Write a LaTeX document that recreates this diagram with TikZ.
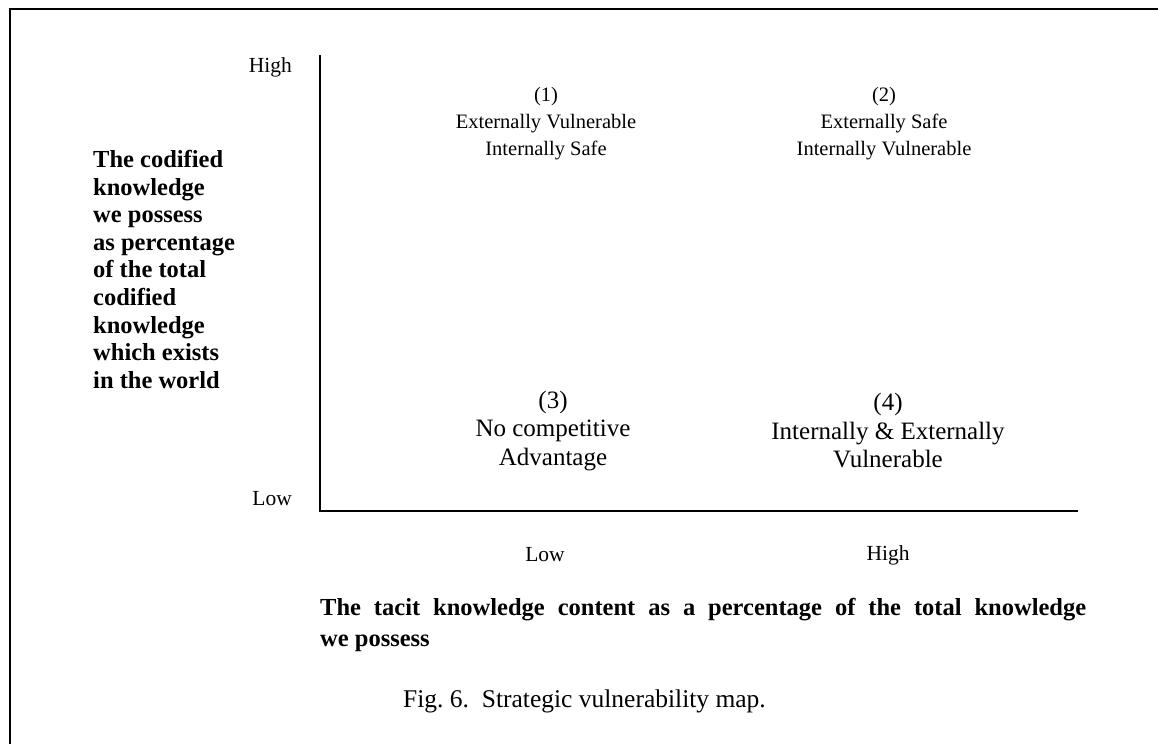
\documentclass[tikz,border=0pt]{standalone}
\usepackage{fontspec}
\setmainfont{Liberation Serif}
\begin{document}
\begin{tikzpicture}[x=1pt,y=-1pt,
  quad/.style={inner sep=0pt, align=center, font=\fontsize{20.5}{27}\selectfont},
  quadbig/.style={inner sep=0pt, align=center, font=\fontsize{25}{28.5}\selectfont},
  tick/.style={inner sep=0pt, font=\fontsize{21.5}{24}\selectfont},
  axistitle/.style={inner sep=0pt, align=left, font=\bfseries\fontsize{24.5}{27.6}\selectfont},
  caption/.style={inner sep=0pt, font=\fontsize{25.5}{28}\selectfont},
  rule/.style={line width=2pt}]
\useasboundingbox (0,0) rectangle (1158,744);

% page frame
\draw[line width=2pt] (10,744) -- (10,9) -- (1158,9);

% axes
\coordinate (Ytop) at (320,55);
\coordinate (O) at (320,511);
\coordinate (Xend) at (1078,511);
\draw[rule] (Ytop) -- (O) -- (Xend);

% vertical axis
\node[tick, anchor=east] (yhigh) at (292,67) {High};
\node[tick, anchor=east] (ylow) at (292,499) {Low};
\node[axistitle, anchor=north west] (ytitle) at (93,150)
  {The codified\\knowledge\\we possess\\as percentage\\of the total\\codified\\knowledge\\which exists\\in the world};

% quadrants
\node[quad] (q1) at (546,124) {(1)\\Externally Vulnerable\\Internally Safe};
\node[quad] (q2) at (884,124) {(2)\\Externally Safe\\Internally Vulnerable};
\node[quadbig] (q3) at (553,431) {(3)\\No competitive\\Advantage};
\node[quadbig] (q4) at (888,431) {(4)\\Internally \& Externally\\Vulnerable};

% horizontal axis
\node[tick] (xlow) at (545,555) {Low};
\node[tick] (xhigh) at (888,555) {High};
\node[axistitle, anchor=north west, text width=766pt, align=justify,
      font=\bfseries\fontsize{24.5}{31}\selectfont] (xtitle) at (320,598)
  {\hyphenpenalty=10000 The tacit knowledge content as a percentage of the total knowledge\linebreak we possess};

% figure caption
\node[caption, anchor=west] (cap) at (403,701) {Fig.~6.\ \ Strategic vulnerability map.};
\end{tikzpicture}
\end{document}
